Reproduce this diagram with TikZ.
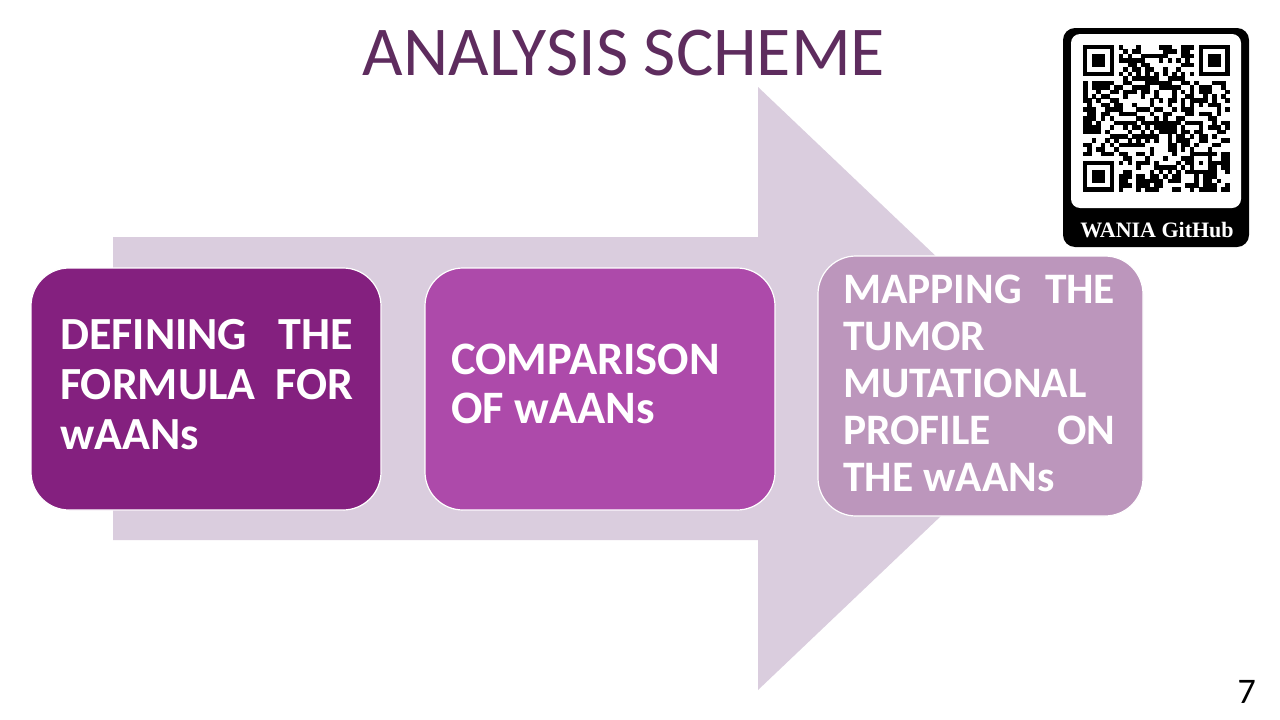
\documentclass[tikz,border=0pt]{standalone}
\usepackage{fontspec}
\setmainfont{Carlito}
\newfontfamily\tagfont{Liberation Serif}

\definecolor{arrowfill}{HTML}{DACDDE}
\definecolor{stepone}{HTML}{84207F}
\definecolor{steptwo}{HTML}{AD4AAA}
\definecolor{stepthree}{HTML}{BC96BC}
\definecolor{titlecol}{HTML}{5E2C5E}

\newcommand{\qrmod}{4.45}

\begin{document}
\begin{tikzpicture}[x=1pt,y=-1pt,
  stepbox/.style={draw=white, line width=1.2pt, rounded corners=38pt, inner sep=0pt},
  steptext/.style={inner sep=0pt, text=white, font=\fontsize{46}{50}\selectfont\bfseries},
  qrcell/.style={fill=black}]
\useasboundingbox (0,0) rectangle (1280,720);
\fill[white] (0,0) rectangle (1280,720);

% title
\node[anchor=base, text=titlecol, inner sep=0pt, font=\fontsize{70}{80}\selectfont] (title) at (624,75) {ANALYSIS SCHEME};

% large background arrow
\fill[arrowfill] (113,237) -- (758,237) -- (758,87) -- (1075,388.5) -- (758,690) -- (758,540) -- (113,540) -- cycle;

% the three steps
\node[stepbox, fill=stepone, minimum width=350pt, minimum height=242pt] (b1) at (206,389) {};
\node[stepbox, fill=steptwo, minimum width=350pt, minimum height=242pt] (b2) at (600,389) {};
\node[stepbox, fill=stepthree, minimum width=325pt, minimum height=260pt] (b3) at (980.5,386) {};

\node[steptext, anchor=base west] (t1) at (60,349) {\vtop{\hsize=293pt \baselineskip=50pt
  \hbox to\hsize{DEFINING\hfill THE}
  \hbox to\hsize{FORMULA\hfill FOR}
  \hbox{wAANs}}};
\node[steptext, anchor=base west, font=\fontsize{46.5}{50}\selectfont\bfseries] (t2) at (451,374) {\vtop{\hsize=275pt \baselineskip=49pt
  \hbox{COMPARISON}
  \hbox{OF wAANs}}};
\node[steptext, anchor=base west, font=\fontsize{43.5}{47}\selectfont\bfseries] (t3) at (843,303) {\vtop{\hsize=272pt \baselineskip=47pt
  \hbox to\hsize{MAPPING\hfill THE}
  \hbox{TUMOR}
  \hbox{MUTATIONAL}
  \hbox to\hsize{PROFILE\hfill ON}
  \hbox{THE wAANs}}};

% QR badge
\fill[black, rounded corners=12pt] (1063,28) rectangle (1249,247);
\fill[white, rounded corners=9pt] (1071,34) rectangle (1241,208);
\node[anchor=base, inner sep=0pt, text=white, font=\tagfont\bfseries\fontsize{22}{24}\selectfont] (qrtag) at (1157,237) {WANIA GitHub};

% data modules
\pgfmathsetseed{4711}
\foreach \r in {0,...,32}{
  \foreach \c in {0,...,32}{
    \pgfmathtruncatemacro\reserved{or(or(and(\r<8,\c<8),and(\r<8,\c>24)),or(and(\r>24,\c<8),or(and(and(\r>23,\r<29),and(\c>23,\c<29)),or(\r==6,\c==6))))}
    \ifnum\reserved=0
      \pgfmathrandominteger{\bit}{0}{1}
      \ifnum\bit=1
        \fill[qrcell] ({1083+\c*\qrmod},{45+\r*\qrmod}) rectangle ++(4.55,4.55);
      \fi
    \fi
  }
}
% finder patterns
\foreach \fc/\fr in {0/0,26/0,0/26}{
  \fill[black] ({1083+\fc*\qrmod},{45+\fr*\qrmod}) rectangle ++({7*\qrmod},{7*\qrmod});
  \fill[white] ({1083+(\fc+1)*\qrmod},{45+(\fr+1)*\qrmod}) rectangle ++({5*\qrmod},{5*\qrmod});
  \fill[black] ({1083+(\fc+2)*\qrmod},{45+(\fr+2)*\qrmod}) rectangle ++({3*\qrmod},{3*\qrmod});
}
% timing patterns
\foreach \k in {8,10,...,24}{
  \fill[black] ({1083+\k*\qrmod},{45+6*\qrmod}) rectangle ++(4.55,4.55);
  \fill[black] ({1083+6*\qrmod},{45+\k*\qrmod}) rectangle ++(4.55,4.55);
}
% alignment pattern
\fill[black] ({1083+24*\qrmod},{45+24*\qrmod}) rectangle ++({5*\qrmod},{5*\qrmod});
\fill[white] ({1083+25*\qrmod},{45+25*\qrmod}) rectangle ++({3*\qrmod},{3*\qrmod});
\fill[black] ({1083+26*\qrmod},{45+26*\qrmod}) rectangle ++(\qrmod,\qrmod);

% slide number
\node[anchor=base east, inner sep=0pt, font=\fontsize{36}{40}\selectfont] (pagenum) at (1256,703) {7};
\end{tikzpicture}
\end{document}
